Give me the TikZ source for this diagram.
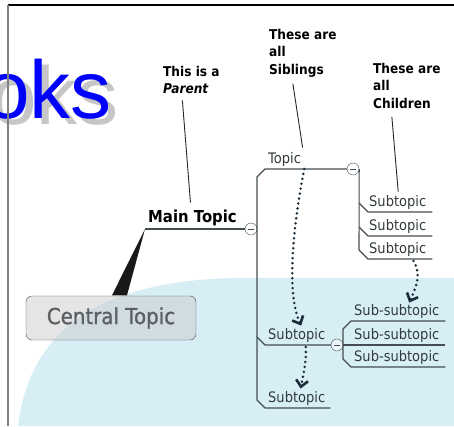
\documentclass[tikz,border=0pt]{standalone}
\usepackage{fontspec}
\setmainfont{DejaVu Sans}[FakeStretch=0.9]
\newfontfamily\logofont{Liberation Sans}
\usetikzlibrary{arrows.meta,calc}
\definecolor{skyfill}{HTML}{D7EEF5}
\definecolor{linegray}{HTML}{434D52}
\definecolor{flowblue}{HTML}{1C2B38}
\definecolor{textgray}{HTML}{333A3E}

\begin{document}
\begin{tikzpicture}[x=1pt,y=-1pt,
 branch/.style={draw=linegray,line width=1.1pt},
 pointer/.style={draw=black!85,line width=0.9pt},
 topic/.style={anchor=south west,inner xsep=0pt,inner ysep=0pt,text height=11pt,text depth=5pt,
  font=\fontsize{14.5}{17}\selectfont,text=textgray},
 sub/.style={topic,inner xsep=1pt,text width=62pt,align=left},
 subsub/.style={topic,inner xsep=3pt,text width=88pt,align=left},
 collapse/.style={circle,draw=linegray,fill=white,fill opacity=0.5,minimum size=12pt,inner sep=0pt,
  path picture={\draw[linegray,line width=0.9pt] ([xshift=-3pt]path picture bounding box.center)
   -- ([xshift=3pt]path picture bounding box.center);}},
 note/.style={anchor=north west,align=left,inner sep=0pt,font=\bfseries\fontsize{13.5}{17.5}\selectfont},
 flow/.style={flowblue,line width=2.8pt,line cap=round,dash pattern=on 0pt off 5pt,
  -{Straight Barb[length=6.5pt,width=12pt,line width=2.6pt]}}]
 \useasboundingbox (0,0) rectangle (454,426);

 \node[anchor=base east,inner sep=0pt,text=gray!45,font=\logofont\fontsize{82}{82}\selectfont] (shadow) at (119,124) {oks};
 \node[anchor=base east,inner sep=0pt,text=blue,font=\logofont\fontsize{82}{82}\selectfont] (logo) at (112,118) {oks};
 \draw[black,line width=1.2pt] (8,5) -- (454,5);
 \draw[gray,line width=1.5pt] (8,5) -- (8,426);

 \fill[skyfill] (454,278) -- (235,278) .. controls (80,281) and (28,345) .. (18,426) -- (454,426) -- cycle;

 \node[draw=gray!60!black,fill=gray!40,fill opacity=0.5,text opacity=1,rounded corners=6pt,
  minimum width=170pt,minimum height=44pt,font=\fontsize{22}{26}\selectfont\addfontfeature{FakeBold=1.2},
  text=textgray!80] (central) at (111,318) {Central Topic};
 \node[topic,inner xsep=3pt,text depth=6pt,font=\bfseries\fontsize{16.5}{20}\selectfont,text=black] (main) at (145,229) {Main Topic};
 \node[collapse] (c0) at (251,229) {};
 \node[topic,inner xsep=3pt] (topic) at (265,169) {Topic};
 \node[collapse] (c1) at (353,169) {};
 \node[sub] (sub1) at (368,212) {Subtopic};
 \node[sub] (sub2) at (368,236) {Subtopic};
 \node[sub] (sub3) at (368,259) {Subtopic};
 \node[topic,inner xsep=3pt] (sib1) at (265,345) {Subtopic};
 \node[collapse] (c2) at (337,345) {};
 \node[topic,inner xsep=3pt,text width=59pt,align=left] (sib2) at (265,408) {Subtopic};
 \node[subsub] (ss1) at (351,321) {Sub-subtopic};
 \node[subsub] (ss2) at (351,345) {Sub-subtopic};
 \node[subsub] (ss3) at (351,367) {Sub-subtopic};

 \fill[black!90] ([xshift=1pt,yshift=0.5pt]central.north) -- (main.south west) -- ([xshift=16pt,yshift=0.5pt]central.north) -- cycle;
 \draw[branch] (main.south west) -- (c0.west);
 \draw[branch] (c1.west) -- (topic.south west) -- ++(-8,8) -- ($(sib2.south west)+(-8,-8)$) -- (sib2.south west) -- (sib2.south east);
 \draw[branch] (c2.west) -- (sib1.south west) -- ++(-8,-8);
 \draw[branch] (c1.east) -- ($(sub3.south west)+(-9,-9)$) -- (sub3.south west) -- (sub3.south east);
 \draw[branch] ($(sub1.south west)+(-9,-9)$) -- (sub1.south west) -- (sub1.south east);
 \draw[branch] ($(sub2.south west)+(-9,-9)$) -- (sub2.south west) -- (sub2.south east);
 \draw[branch] (c2.east) -- (ss2.south west) -- (ss2.south east);
 \draw[branch] (ss1.south east) -- (ss1.south west) -- ++(-8,8) -- ($(ss3.south west)+(-8,-8)$) -- (ss3.south west) -- (ss3.south east);

 \node[note] (parent) at (163,66) {This is a\\\textit{Parent}};
 \node[note] (siblings) at (269,29) {These are\\all\\Siblings};
 \node[note] (children) at (373,63) {These are\\all\\Children};
 \draw[pointer] ([xshift=-9pt,yshift=-6pt]parent.south) -- ([xshift=-2pt,yshift=9pt]main.north);
 \draw[pointer] ([xshift=-10pt,yshift=-6pt]siblings.south) -- ([xshift=18pt,yshift=5pt]topic.north);
 \draw[pointer] ([xshift=-15pt,yshift=-8pt]children.south) -- ([xshift=-2pt,yshift=4pt]sub1.north);

 \draw[flow] (topic.south east) .. controls +(-8,41) and +(-17,-36) .. ([xshift=4.5pt,yshift=3pt]sib1.north);
 \draw[flow] ([xshift=9pt,yshift=-2pt]sib1.south) .. controls +(1,15) and +(2,-12) .. ([xshift=3pt,yshift=3pt]sib2.north);
 \draw[flow] ([xshift=-19pt,yshift=-2pt]sub3.south east) .. controls +(9,14) and +(6,-14) .. ([xshift=11pt,yshift=2pt]ss1.north);
\end{tikzpicture}
\end{document}
